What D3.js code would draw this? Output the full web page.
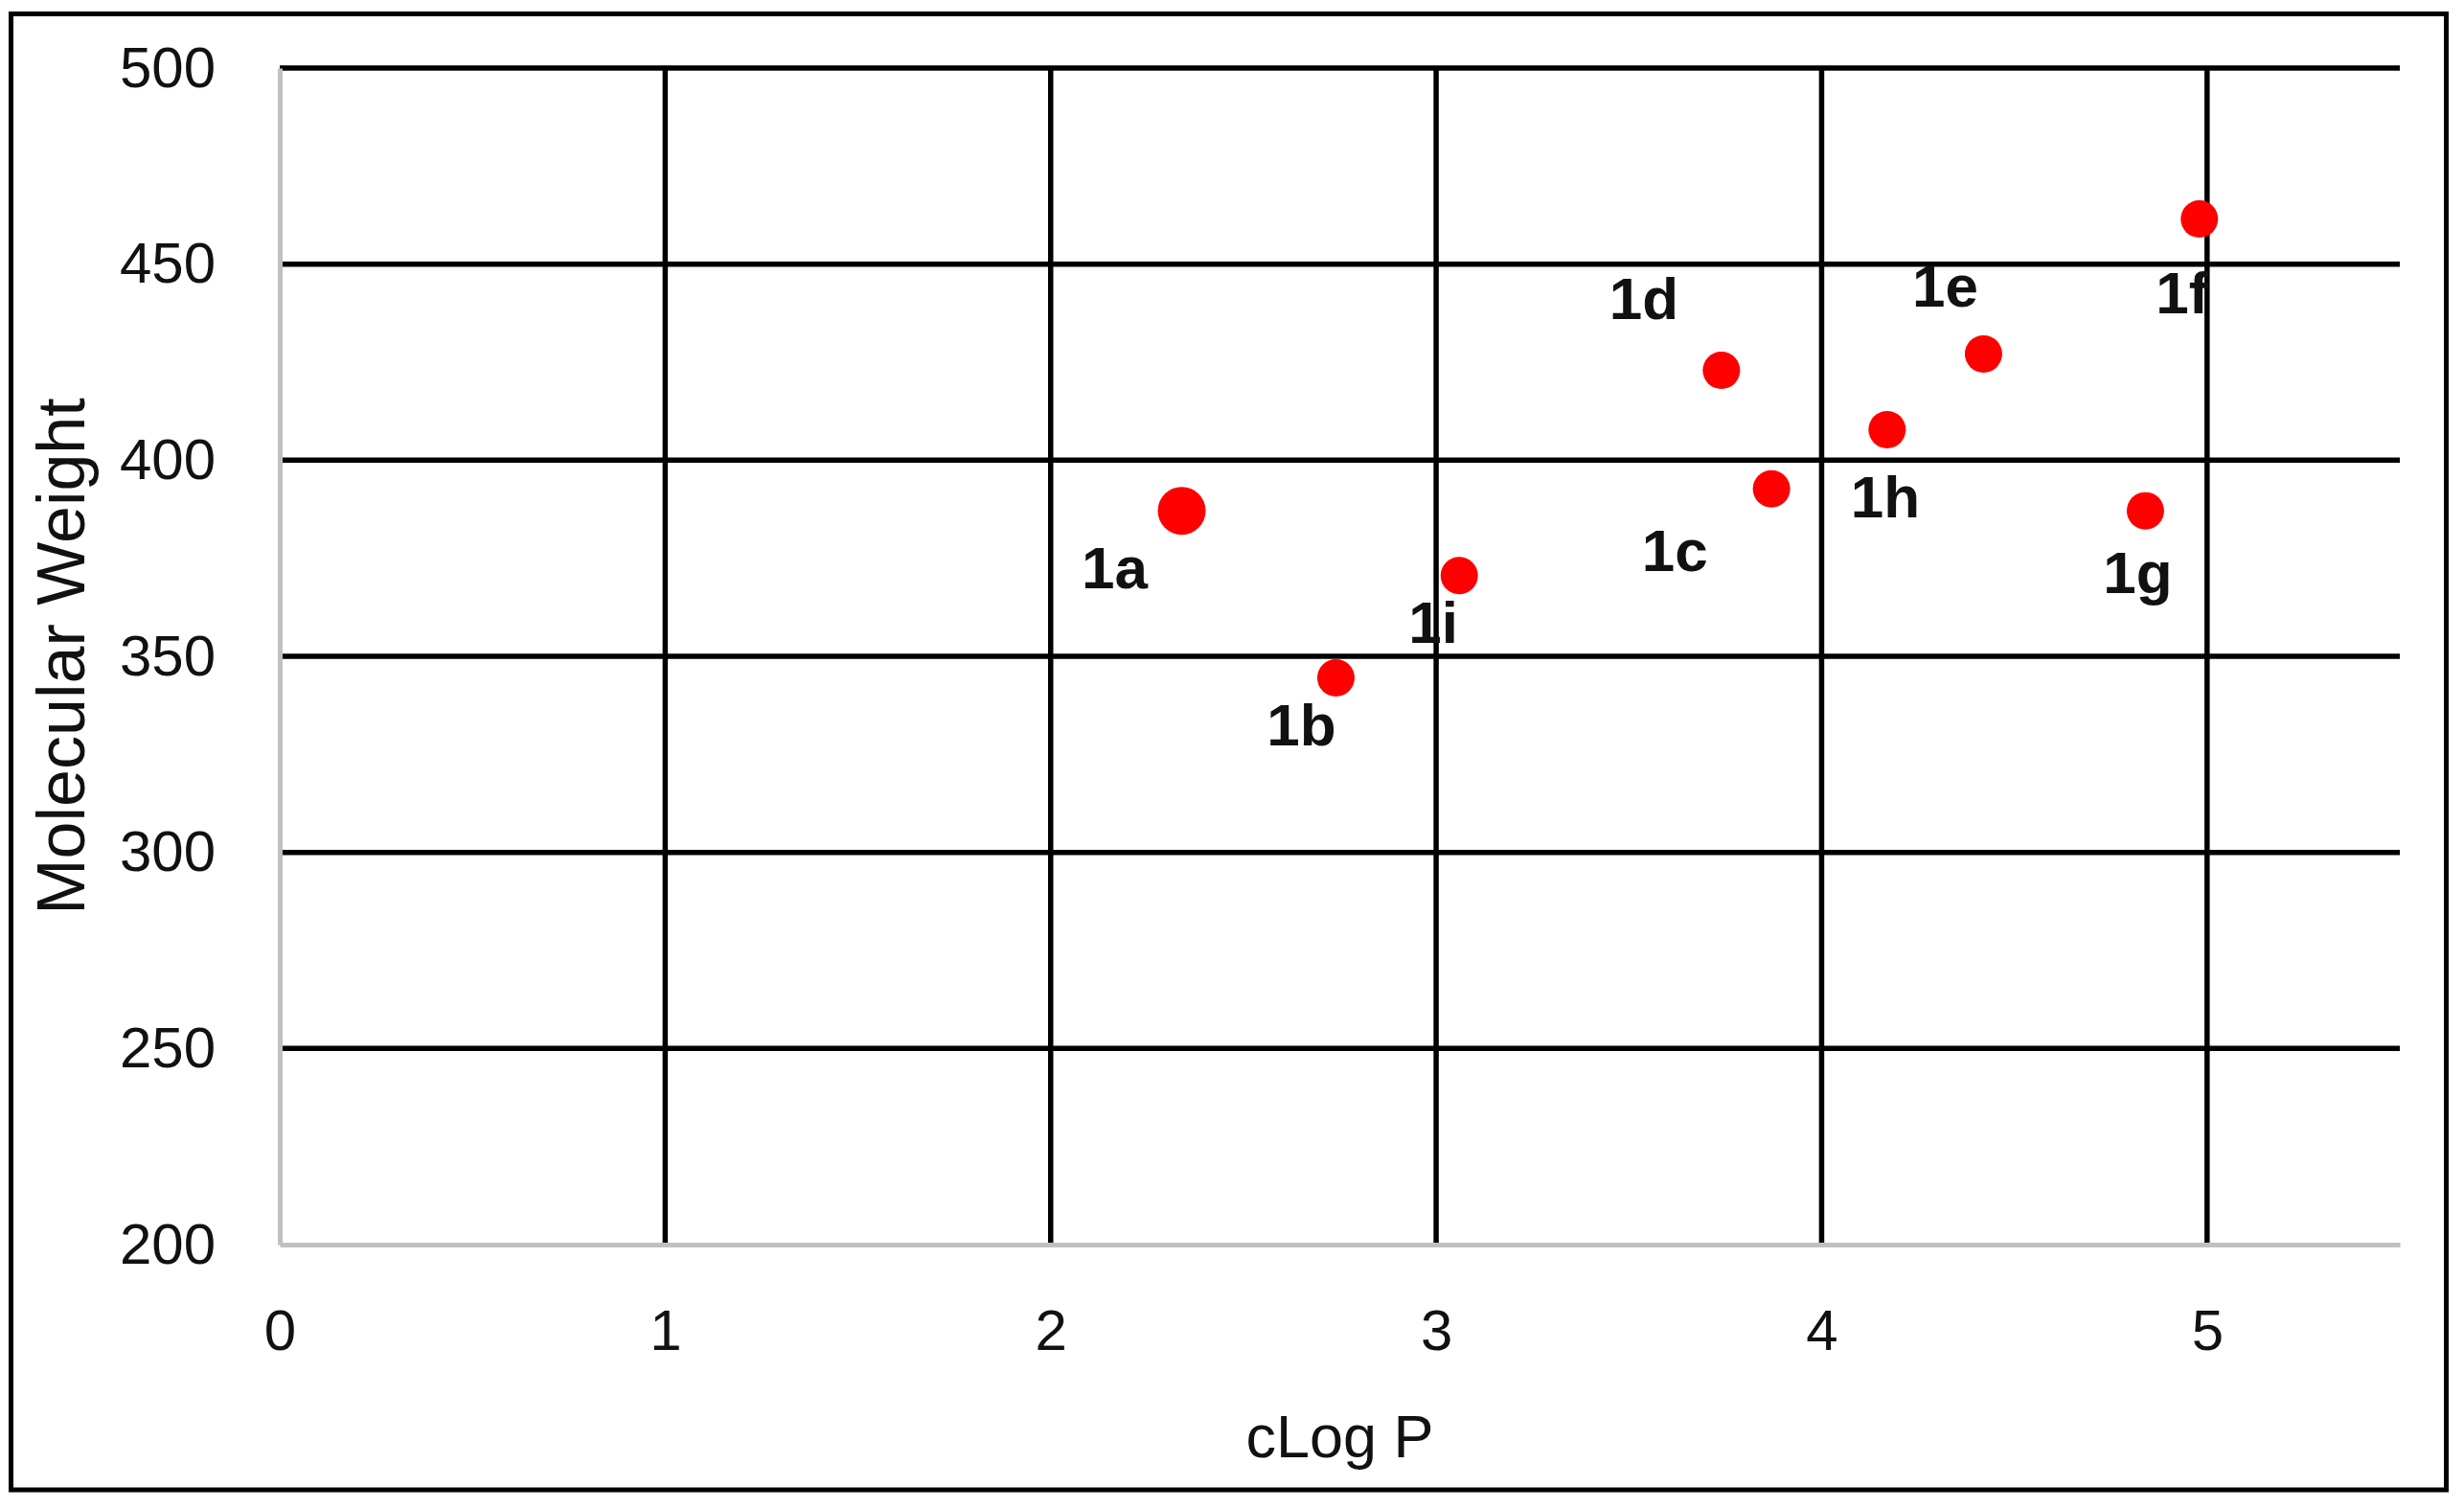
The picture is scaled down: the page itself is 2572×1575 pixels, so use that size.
<!DOCTYPE html>
<html>
<head>
<meta charset="utf-8">
<script src="https://cdn.jsdelivr.net/npm/d3@7"></script>
<style>
  body { margin: 0; background: #fff; }
  svg { display: block; font-family: "Liberation Sans", Arial, sans-serif; }
  .axis text { font-size: 60px; fill: #111; }
  .axis path { stroke: #c0c0c0; stroke-width: 5px; }
  .grid line { stroke: #000; stroke-width: 5.5px; }
  .dot { fill: #ff0000; }
  .label { font-size: 62px; font-weight: bold; fill: #111; text-anchor: middle; }
  .title { fill: #111; text-anchor: middle; }
</style>
</head>
<body>
<svg id="chart" width="2572" height="1575"></svg>
<script>
// compounds
var compounds = ["1a", "1b", "1c", "1d", "1e", "1f", "1g", "1h", "1i"];
var clogP     = [2.34, 2.74, 3.87, 3.74, 4.42, 4.98, 4.84, 4.17, 3.06];
var molWeight = [387.1, 344.5, 392.7, 422.9, 427.1, 461.5, 387.1, 407.8, 370.6];

var xTicks = [0, 1, 2, 3, 4, 5];
var yTicks = [200, 250, 300, 350, 400, 450, 500];

// where each data label sits relative to its marker (px), as placed by hand in the original
var labelOffset = {
  "1a": [-70, 81], "1b": [-36, 70], "1c": [-101, 86], "1d": [-81, -54], "1e": [-40, -49],
  "1f": [-18, 98], "1g": [-8, 86], "1h": [-2, 92], "1i": [-27, 70]
};

var data = compounds.map(function(c, i) {
  return {label: c, x: clogP[i], y: molWeight[i]};
});

var svg = d3.select("#chart");

var margin = {top: 71, right: 67, bottom: 276, left: 292},
    width = +svg.attr("width") - margin.left - margin.right,
    height = +svg.attr("height") - margin.top - margin.bottom;

// outer frame
svg.append("rect")
    .attr("x", 11.5)
    .attr("y", 14.5)
    .attr("width", 2542)
    .attr("height", 1540.5)
    .attr("fill", "none")
    .attr("stroke", "#000")
    .attr("stroke-width", 5);

var g = svg.append("g")
    .attr("transform", "translate(" + margin.left + "," + margin.top + ")");

var x = d3.scaleLinear()
    .domain([0, 5.5])
    .range([0, width]);

var y = d3.scaleLinear()
    .domain([200, 500])
    .range([height, 0]);

// gridlines
var grid = g.append("g").attr("class", "grid");

grid.selectAll("line.h")
    .data(yTicks.slice(1))
  .enter().append("line")
    .attr("class", "h")
    .attr("x1", 0)
    .attr("x2", width)
    .attr("y1", function(d) { return y(d); })
    .attr("y2", function(d) { return y(d); });

grid.selectAll("line.v")
    .data(xTicks.slice(1))
  .enter().append("line")
    .attr("class", "v")
    .attr("x1", function(d) { return x(d); })
    .attr("x2", function(d) { return x(d); })
    .attr("y1", 0)
    .attr("y2", height);

// axes
g.append("g")
    .attr("class", "axis axis--x")
    .attr("transform", "translate(0," + height + ")")
    .call(d3.axisBottom(x).tickValues(xTicks).tickFormat(d3.format("d")).tickSize(0).tickPadding(67));

g.append("g")
    .attr("class", "axis axis--y")
    .call(d3.axisLeft(y).tickValues(yTicks).tickFormat(d3.format("d")).tickSize(0).tickPadding(67));

g.selectAll(".axis text").attr("font-family", null).attr("font-size", null);
g.selectAll(".axis .domain").attr("stroke", null);

// points
g.append("g").selectAll("circle")
    .data(data)
  .enter().append("circle")
    .attr("class", "dot")
    .attr("cx", function(d) { return x(d.x); })
    .attr("cy", function(d) { return y(d.y); })
    .attr("r", function(d) { return d.label === "1a" ? 25 : 19.5; });

g.append("g").selectAll("text")
    .data(data)
  .enter().append("text")
    .attr("class", "label")
    .attr("x", function(d) { return x(d.x) + labelOffset[d.label][0]; })
    .attr("y", function(d) { return y(d.y) + labelOffset[d.label][1]; })
    .text(function(d) { return d.label; });

// axis titles
svg.append("text")
    .attr("class", "title")
    .attr("x", margin.left + width / 2)
    .attr("y", 1521)
    .attr("font-size", 63)
    .text("cLog P");

svg.append("text")
    .attr("class", "title")
    .attr("transform", "translate(88," + (margin.top + height / 2) + ") rotate(-90)")
    .attr("font-size", 70)
    .text("Molecular Weight");
</script>
</body>
</html>
